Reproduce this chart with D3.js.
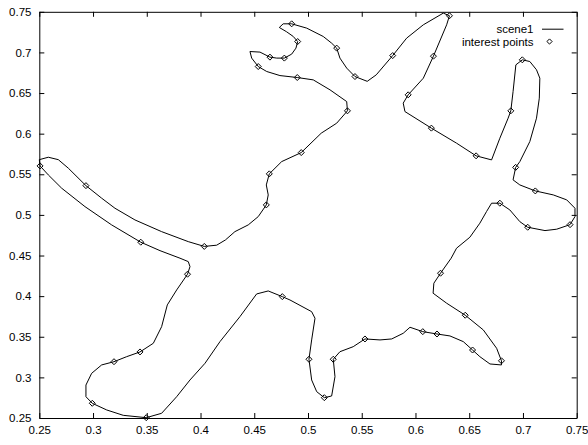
<!DOCTYPE html>
<html>
<head>
<meta charset="UTF-8" />
<title>scene1 interest points</title>
<script src="https://d3js.org/d3.v7.min.js"></script>
<style>
  body { margin: 0; background: #fff; }
  svg text { font-family: "Liberation Sans", Arial, sans-serif; font-size: 11.5px; fill: #000; }
</style>
</head>
<body>
<svg id="chart" width="588" height="445"></svg>
<script>
// contour of scene1 (closed)
const scene1 = [
  [0.2500,0.568],[0.2584,0.571],[0.2677,0.568],[0.2770,0.5575],[0.2934,0.536],
  [0.3080,0.5206],[0.3204,0.5082],[0.3390,0.4938],[0.3638,0.4794],[0.3886,0.4671],
  [0.4035,0.4612],[0.4150,0.4627],[0.4232,0.4692],[0.4320,0.4794],[0.4444,0.4877],
  [0.4537,0.4979],[0.4612,0.5123],[0.4630,0.5246],[0.4612,0.5369],[0.4640,0.5505],
  [0.4755,0.5656],[0.4937,0.5767],[0.5123,0.6006],[0.5267,0.6129],[0.5367,0.6281],
  [0.5360,0.6395],[0.5205,0.6539],[0.5049,0.6662],[0.4900,0.6691],[0.4739,0.6715],
  [0.4616,0.6765],[0.4537,0.6826],[0.4476,0.6930],[0.4460,0.7011],[0.4553,0.7004],
  [0.4646,0.6942],[0.4709,0.6930],[0.4780,0.6930],[0.4848,0.6979],[0.4888,0.7053],
  [0.4904,0.7134],[0.4863,0.7196],[0.4801,0.7254],[0.4733,0.7307],[0.4769,0.7352],
  [0.4848,0.7352],[0.4988,0.7299],[0.5142,0.7196],[0.5220,0.7114],[0.5267,0.7053],
  [0.5297,0.6930],[0.5360,0.6807],[0.5437,0.6703],[0.5551,0.6644],[0.5635,0.6724],
  [0.5788,0.6961],[0.5918,0.7176],[0.6073,0.7340],[0.6259,0.7484],[0.6316,0.7451],
  [0.6290,0.7340],[0.6167,0.6954],[0.6073,0.6683],[0.5932,0.6478],[0.5886,0.6376],
  [0.5902,0.6272],[0.6148,0.6068],[0.6382,0.5883],[0.6564,0.5727],[0.6708,0.5677],
  [0.6785,0.5944],[0.6862,0.6191],[0.6887,0.6281],[0.6908,0.6518],[0.6934,0.6847],
  [0.6994,0.6909],[0.7064,0.6888],[0.7126,0.6786],[0.7157,0.6683],[0.7152,0.6437],
  [0.7126,0.6191],[0.7064,0.5903],[0.6971,0.5656],[0.6932,0.5585],[0.6908,0.5431],
  [0.6971,0.5369],[0.7115,0.5295],[0.7282,0.5246],[0.7407,0.5185],[0.7484,0.5082],
  [0.7484,0.4979],[0.7438,0.4880],[0.7314,0.4824],[0.7205,0.4807],[0.7044,0.4848],
  [0.6971,0.4917],[0.6878,0.5061],[0.6785,0.5144],[0.6708,0.5144],[0.6661,0.5041],
  [0.6599,0.4898],[0.6506,0.4725],[0.6382,0.4590],[0.6332,0.4467],[0.6233,0.4282],
  [0.6171,0.4159],[0.6164,0.4036],[0.6290,0.3913],[0.6463,0.3765],[0.6631,0.3584],
  [0.6755,0.3358],[0.6800,0.3204],[0.6800,0.3153],[0.6693,0.3165],[0.6599,0.3255],
  [0.6531,0.3337],[0.6445,0.3440],[0.6321,0.3510],[0.6200,0.3534],[0.6068,0.3563],
  [0.5949,0.3617],[0.5886,0.3543],[0.5779,0.3473],[0.5670,0.3461],[0.5530,0.3473],
  [0.5421,0.3378],[0.5297,0.3316],[0.5235,0.3223],[0.5251,0.3009],[0.5220,0.2771],
  [0.5152,0.2750],[0.5081,0.2824],[0.5034,0.2968],[0.5009,0.3223],[0.5034,0.3461],
  [0.5065,0.3728],[0.5034,0.3809],[0.4832,0.3953],[0.4761,0.3994],[0.4630,0.4064],
  [0.4522,0.4027],[0.4367,0.3748],[0.4181,0.3440],[0.4042,0.3174],[0.3902,0.2968],
  [0.3778,0.2762],[0.3638,0.2558],[0.3495,0.2504],[0.3281,0.2533],[0.3127,0.2599],
  [0.2993,0.2681],[0.2934,0.2762],[0.2934,0.2906],[0.2987,0.3050],[0.3080,0.3153],
  [0.3195,0.3193],[0.3313,0.3255],[0.3437,0.3313],[0.3561,0.3420],[0.3638,0.3624],
  [0.3691,0.3892],[0.3778,0.4076],[0.3879,0.4270],[0.3902,0.4363],[0.3886,0.4425],
  [0.3809,0.4467],[0.3623,0.4560],[0.3444,0.4664],[0.3173,0.4877],[0.2925,0.5102],
  [0.2708,0.5329],[0.2584,0.5492],[0.2507,0.5603],[0.2500,0.568]
];

// interest points
const interestPoints = [
  [0.2507,0.5603],[0.2934,0.536],[0.4035,0.4612],[0.4612,0.5123],[0.4640,0.5505],
  [0.4937,0.5767],[0.5367,0.6281],[0.4900,0.6691],[0.4537,0.6826],[0.4646,0.6942],
  [0.4780,0.6930],[0.4904,0.7134],[0.4848,0.7352],[0.5267,0.7053],[0.5437,0.6703],
  [0.5788,0.6961],[0.6316,0.7451],[0.6167,0.6954],[0.5932,0.6478],[0.6148,0.6068],
  [0.6564,0.5727],[0.6887,0.6281],[0.6994,0.6909],[0.6932,0.5585],[0.7115,0.5295],
  [0.7438,0.4880],[0.7044,0.4848],[0.6785,0.5144],[0.6233,0.4282],[0.6463,0.3765],
  [0.6800,0.3204],[0.6531,0.3337],[0.6200,0.3534],[0.6068,0.3563],[0.5530,0.3473],
  [0.5235,0.3223],[0.5152,0.2750],[0.5009,0.3223],[0.4761,0.3994],[0.3495,0.2504],
  [0.2993,0.2681],[0.3195,0.3193],[0.3437,0.3313],[0.3879,0.4270],[0.3444,0.4664]
];

const xDomain = [0.25, 0.75]
const yDomain = [0.25, 0.75]
const legendLabels = ["scene1", "interest points"]

const plotLeft = 39.3, plotRight = 576.7, plotTop = 11.8, plotBottom = 418

const svg = d3.select("#chart")

const x = d3.scaleLinear().domain(xDomain).range([plotLeft, plotRight])
const y = d3.scaleLinear().domain(yDomain).range([plotBottom, plotTop])

const fmt = d => String(+d.toFixed(2))

// axes, ticks point inwards, mirrored on top and right
svg.append("g")
  .attr("transform", `translate(0,${plotBottom})`)
  .call(d3.axisBottom(x).ticks(10).tickSize(-5).tickSizeOuter(0).tickPadding(7.5).tickFormat(fmt))
svg.append("g")
  .attr("transform", `translate(0,${plotTop})`)
  .call(d3.axisTop(x).ticks(10).tickSize(-5).tickSizeOuter(0).tickFormat(""))
svg.append("g")
  .attr("transform", `translate(${plotLeft},0)`)
  .call(d3.axisLeft(y).ticks(10).tickSize(-5).tickSizeOuter(0).tickPadding(7.8).tickFormat(fmt))
svg.append("g")
  .attr("transform", `translate(${plotRight},0)`)
  .call(d3.axisRight(y).ticks(10).tickSize(-5).tickSizeOuter(0).tickFormat(""))

svg.selectAll(".domain").attr("stroke", "#000")
svg.selectAll(".tick line").attr("stroke", "#000")
svg.selectAll(".tick text").attr("font-size", 11.5).attr("font-family", "Liberation Sans, Arial, sans-serif").attr("fill", "#000")

// contour
const line = d3.line().x(d => x(d[0])).y(d => y(d[1]))
svg.append("path")
  .datum(scene1)
  .attr("d", line)
  .attr("fill", "none")
  .attr("stroke", "#000")
  .attr("stroke-width", 1)

// diamonds
const diamond = (cx, cy, r) => `M${cx},${cy - r}L${cx + r},${cy}L${cx},${cy + r}L${cx - r},${cy}Z`
svg.append("g").selectAll("path")
  .data(interestPoints)
  .join("path")
  .attr("d", d => diamond(x(d[0]), y(d[1]), 3))
  .attr("fill", "none")
  .attr("stroke", "#000")
  .attr("stroke-width", 1)

// legend
const legend = svg.append("g")
legend.selectAll("text")
  .data(legendLabels)
  .join("text")
  .attr("x", 533.5)
  .attr("y", (d, i) => 29.2 + i * 12.3)
  .attr("dy", "0.35em")
  .attr("text-anchor", "end")
  .text(d => d)
legend.append("line")
  .attr("x1", 542).attr("x2", 563.5)
  .attr("y1", 29.2).attr("y2", 29.2)
  .attr("stroke", "#000")
legend.append("path")
  .attr("d", diamond(549.5, 41.5, 2.6))
  .attr("fill", "none")
  .attr("stroke", "#000")
</script>
</body>
</html>
